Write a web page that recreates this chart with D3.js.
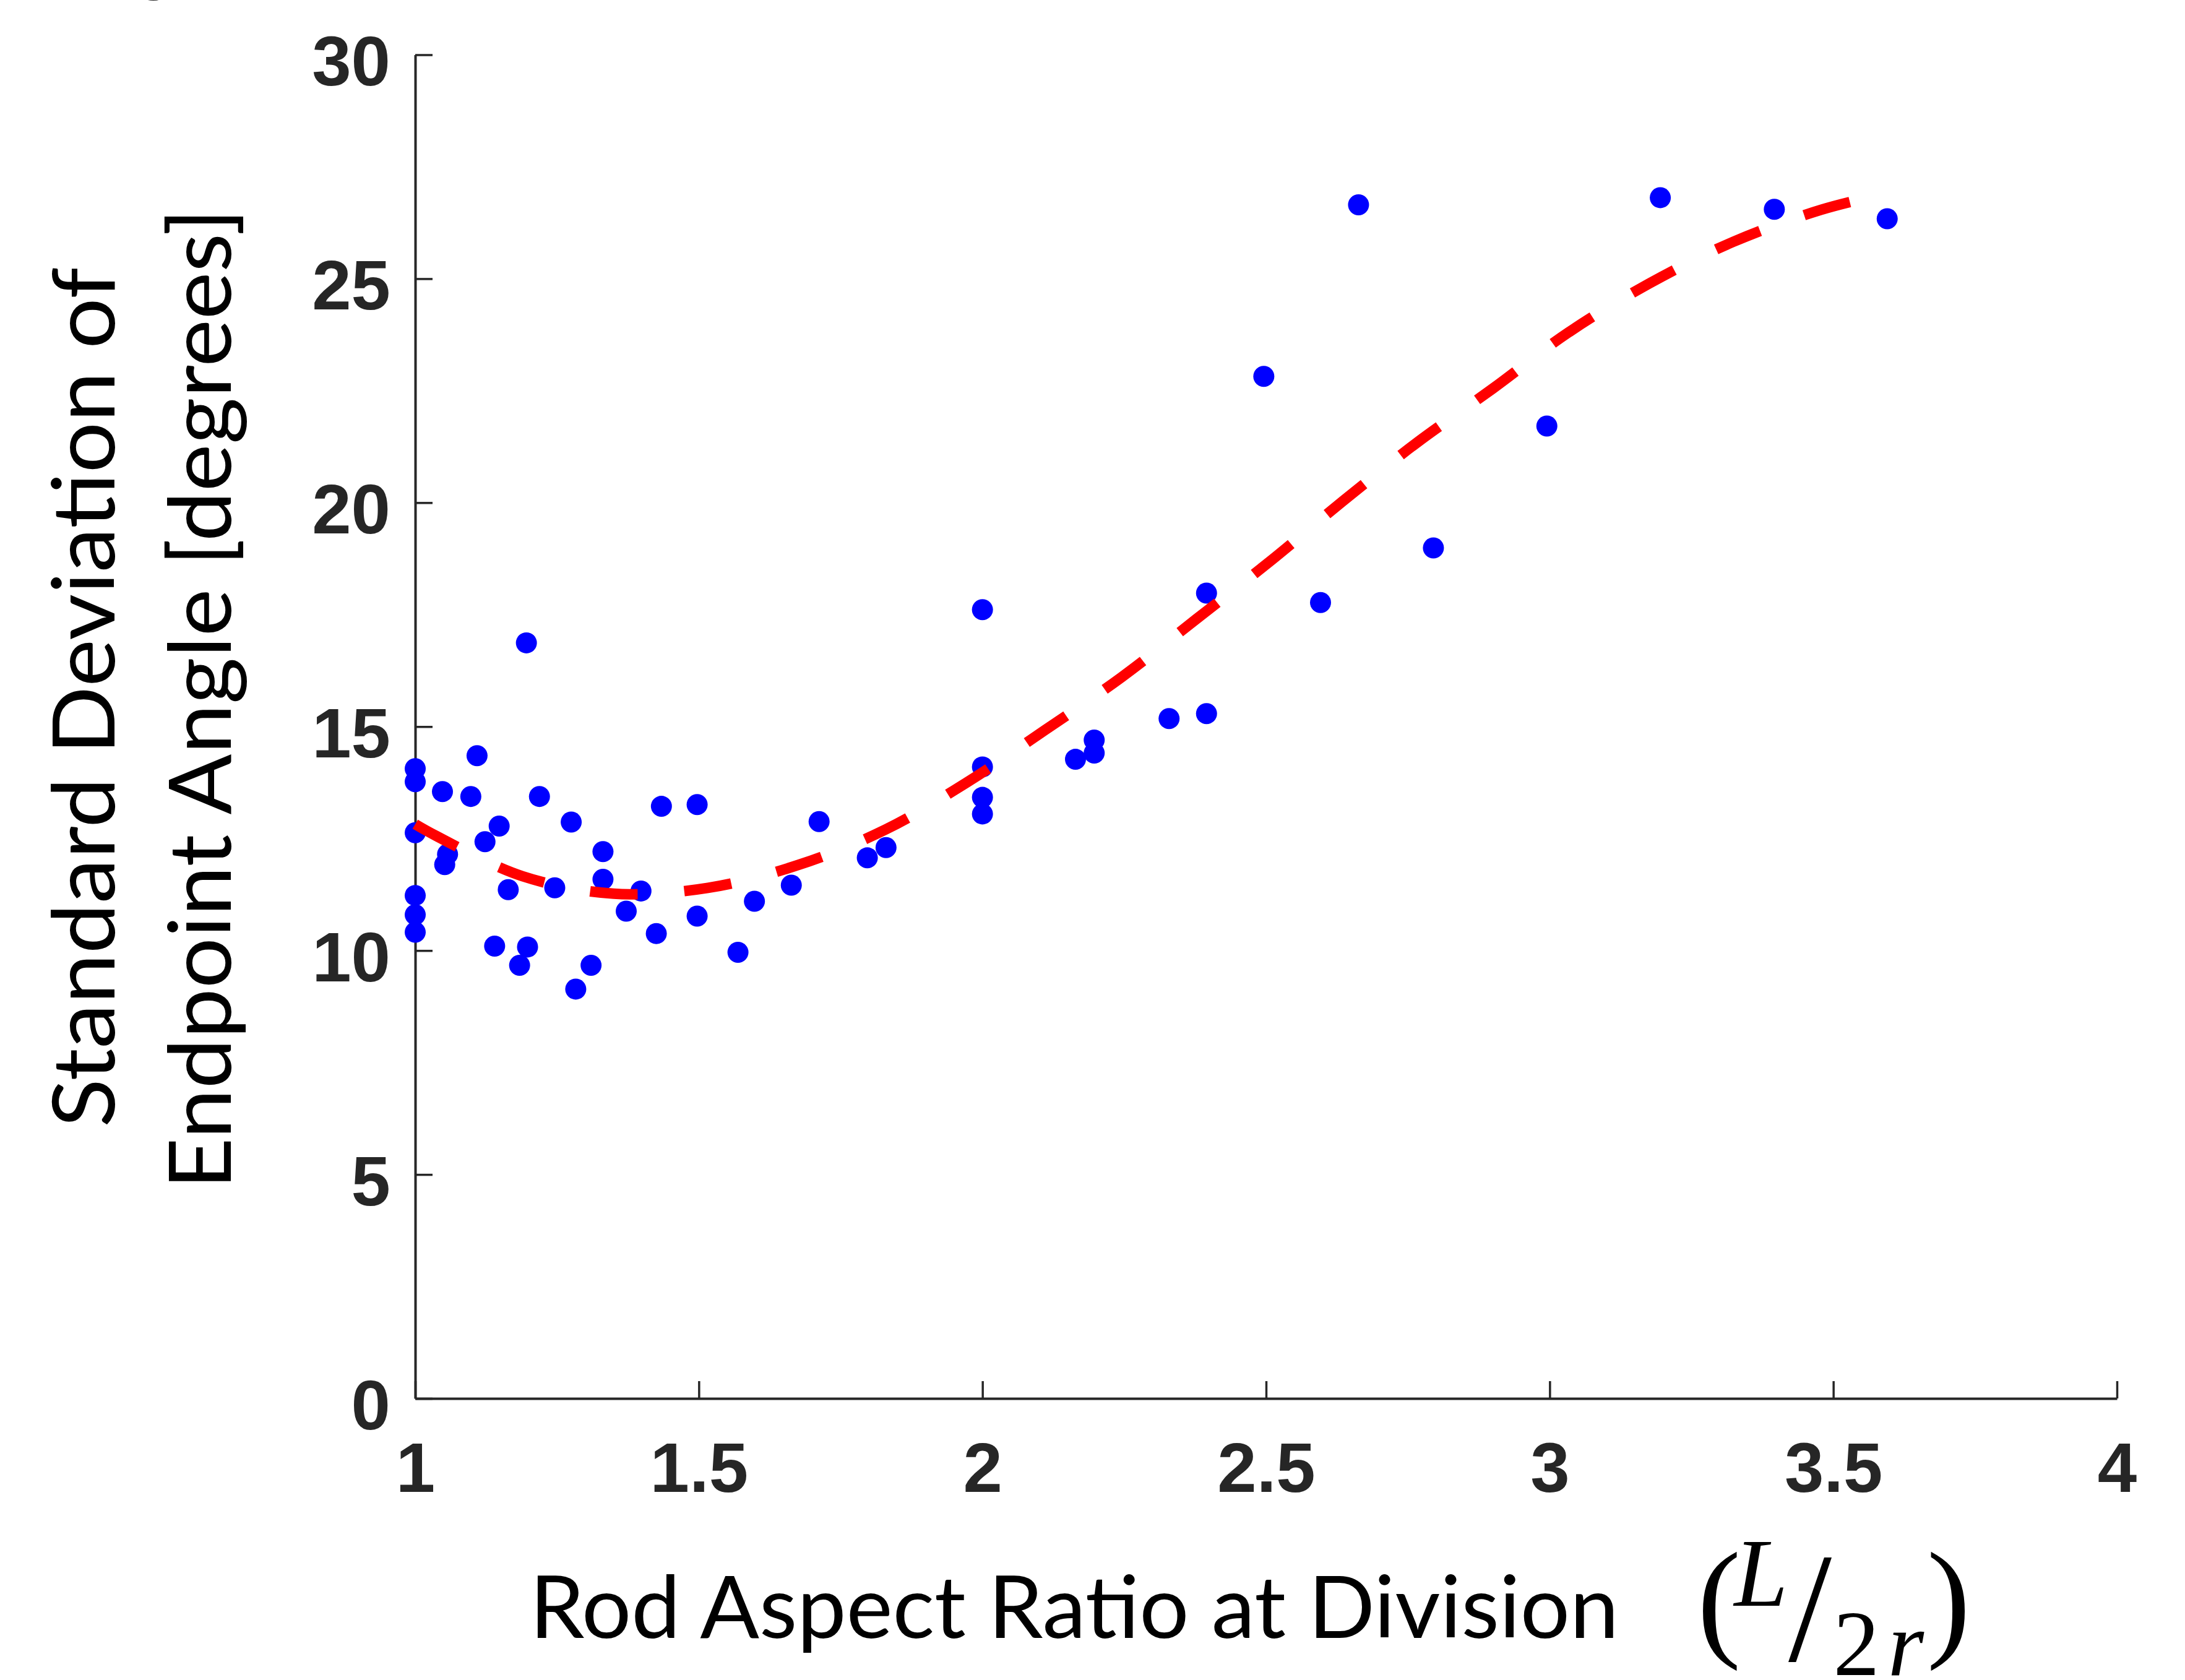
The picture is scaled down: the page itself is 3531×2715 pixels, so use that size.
<!DOCTYPE html>
<html>
<head>
<meta charset="utf-8">
<script src="https://cdn.jsdelivr.net/npm/d3@7"></script>
<style>
  html, body { margin: 0; padding: 0; background: #fff; }
  svg { display: block; }
</style>
</head>
<body>
<div class="chart-container"></div>
<script>
// values
const aspectRatio = [1.0, 1.0, 1.0, 1.0, 1.0, 1.0, 1.048, 1.057, 1.052, 1.098, 1.109, 1.123, 1.14, 1.148,
    1.164, 1.184, 1.196, 1.198, 1.219, 1.246, 1.275, 1.283, 1.31, 1.331, 1.331, 1.372, 1.398, 1.425,
    1.434, 1.497, 1.497, 1.569, 1.598, 1.663, 1.712, 1.797, 1.83, 2.0, 2.0, 2.0, 2.0, 2.164, 2.197,
    2.197, 2.329, 2.395, 2.395, 2.496, 2.596, 2.663, 2.795, 2.995, 3.195, 3.396, 3.595]
const stdAngle = [14.06, 13.77, 12.63, 11.23, 10.80, 10.41, 13.55, 12.15, 11.92, 13.44, 14.35, 12.43, 10.10, 12.78,
    11.36, 9.67, 16.87, 10.08, 13.44, 11.40, 12.87, 9.14, 9.67, 12.21, 11.59, 10.88, 11.33, 10.38,
    13.22, 13.26, 10.77, 9.96, 11.10, 11.46, 12.88, 12.07, 12.30, 17.61, 14.10, 13.42, 13.05, 14.27, 14.70,
    14.41, 15.18, 15.29, 17.98, 22.82, 17.77, 26.65, 18.99, 21.71, 26.81, 26.55, 26.34]

// dashed fit line, points taken along the red dashes
const fitX = [1.0, 1.037, 1.189, 1.35, 1.516, 1.675, 1.829, 1.972, 2.11, 2.245, 2.377, 2.507, 2.635,
    2.766, 2.9, 3.033, 3.175, 3.323, 3.479, 3.6]
const fitY = [12.82, 12.56, 11.66, 11.27, 11.40, 11.91, 12.70, 13.75, 14.92, 16.10, 17.40, 18.69, 20.03,
    21.34, 22.55, 23.80, 24.89, 25.82, 26.54, 26.92]

const xTicks = [1, 1.5, 2, 2.5, 3, 3.5, 4]
const yTicks = [0, 5, 10, 15, 20, 25, 30]

const width = 3531
const height = 2715
const margin = {left: 671, top: 88.5, right: 110, bottom: 455}
const chartWidth = width - margin.left - margin.right
const chartHeight = height - margin.top - margin.bottom

const root = d3.select('.chart-container')
    .append('svg')
        .attr('width', width)
        .attr('height', height)

const svg = root.append('g')
    .attr('transform', `translate(${margin.left}, ${margin.top})`)

const xScale = d3.scaleLinear()
    .domain([1, 4])
    .range([0, chartWidth])

const yScale = d3.scaleLinear()
    .domain([0, 30])
    .range([chartHeight, 0])

// axes, matlab style: ticks inside, no box
const xAxis = svg.append('g')
    .attr('transform', `translate(0, ${chartHeight})`)
    .call(d3.axisBottom(xScale).tickValues(xTicks).tickFormat(d => String(d))
        .tickSizeInner(-28).tickSizeOuter(0).tickPadding(70))

const yAxis = svg.append('g')
    .call(d3.axisLeft(yScale).tickValues(yTicks).tickFormat(d => String(d))
        .tickSizeInner(-28).tickSizeOuter(0).tickPadding(40))

;[xAxis, yAxis].forEach(ax => {
    ax.attr('font-family', '"Liberation Sans", Arial, sans-serif')
      .attr('font-size', 114)
      .attr('font-weight', 'bold')
    ax.select('.domain').attr('stroke', '#262626').attr('stroke-width', 4)
    ax.selectAll('.tick line').attr('stroke', '#262626').attr('stroke-width', 3.5)
    ax.selectAll('.tick text').attr('fill', '#262626')
})
yAxis.selectAll('.tick text').attr('dy', '0.43em')

// data points
const points = aspectRatio.map((a, i) => ({x: a, y: stdAngle[i]}))
svg.selectAll('circle.pt')
    .data(points)
    .enter().append('circle')
        .attr('class', 'pt')
        .attr('cx', d => xScale(d.x))
        .attr('cy', d => yScale(d.y))
        .attr('r', 17)
        .style('fill', '#0000ff')

// fit line on top
const fit = fitX.map((a, i) => [a, fitY[i]])
const line = d3.line()
    .x(d => xScale(d[0]))
    .y(d => yScale(d[1]))
    .curve(d3.curveCatmullRom.alpha(0.5))

svg.append('path')
    .datum(fit)
    .attr('d', line)
    .attr('fill', 'none')
    .attr('stroke', '#ff0000')
    .attr('stroke-width', 17)
    .attr('stroke-dasharray', '77 75.5')
    .attr('stroke-linecap', 'butt')

// axis titles
const labelFont = 'Lato, "Open Sans", sans-serif'

root.append('text')
    .attr('transform', 'translate(185, 1822) rotate(-90)')
    .attr('font-family', labelFont)
    .attr('font-size', 139)
    .attr('textLength', 1390)
    .attr('lengthAdjust', 'spacingAndGlyphs')
    .style('fill', '#000')
    .text('Standard Deviation of')

root.append('text')
    .attr('transform', 'translate(373, 1922) rotate(-90)')
    .attr('font-family', labelFont)
    .attr('font-size', 139)
    .attr('textLength', 1585)
    .attr('lengthAdjust', 'spacingAndGlyphs')
    .style('fill', '#000')
    .text('Endpoint Angle [degrees]')

root.append('text')
    .attr('x', 856)
    .attr('y', 2647)
    .attr('font-family', labelFont)
    .attr('font-size', 139)
    .attr('textLength', 1760)
    .attr('lengthAdjust', 'spacingAndGlyphs')
    .style('fill', '#000')
    .text('Rod Aspect Ratio at Division')

// (L / 2r) piece, built from single glyphs
const serif = '"Liberation Serif", "DejaVu Serif", serif'
const math = root.append('g')
    .attr('font-family', serif)
    .attr('text-anchor', 'middle')
    .style('fill', '#000')

math.append('text').attr('x', 2778).attr('y', 2655).attr('font-size', 212).text('(')
math.append('text').attr('x', 2846).attr('y', 2595).attr('font-size', 156)
    .attr('font-style', 'italic').text('L')
math.append('text').attr('x', 2925).attr('y', 2684).attr('font-size', 252).text('/')
math.append('text').attr('x', 3000).attr('y', 2707).attr('font-size', 150).text('2')
math.append('text').attr('x', 3080).attr('y', 2708).attr('font-size', 150)
    .attr('font-style', 'italic').text('r')
math.append('text').attr('x', 3149).attr('y', 2655).attr('font-size', 212).text(')')

// cut off glyph at the top edge of the figure
root.append('text')
    .attr('x', 249)
    .attr('y', -20)
    .attr('text-anchor', 'middle')
    .attr('font-family', '"Liberation Sans", Arial, sans-serif')
    .attr('font-weight', 'bold')
    .attr('font-size', 100)
    .style('fill', '#222')
    .text('g')
</script>
</body>
</html>
